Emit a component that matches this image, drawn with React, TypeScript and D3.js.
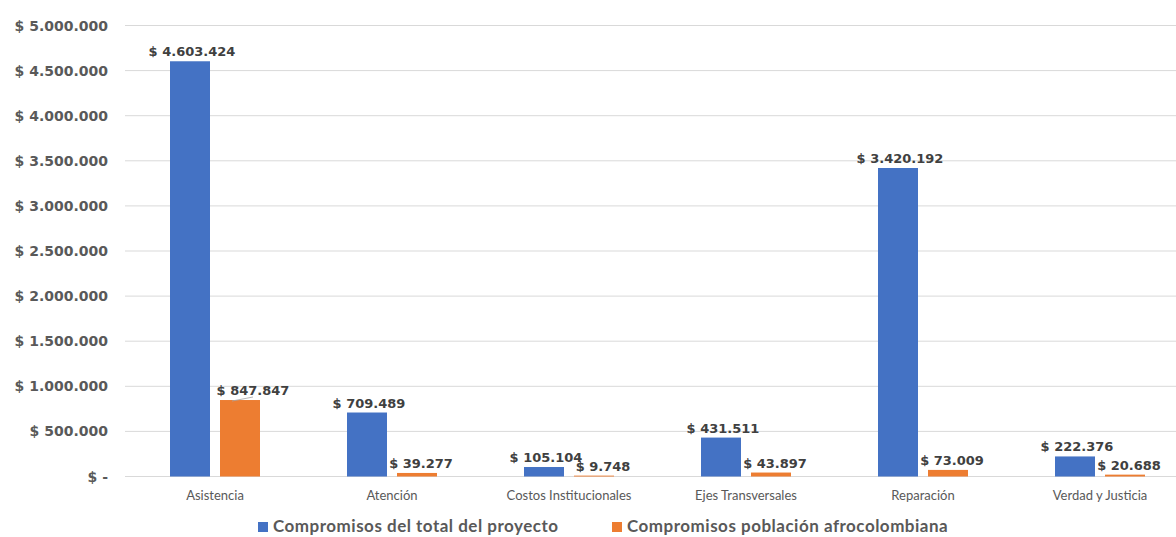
import React from "react";
import * as d3 from "d3";

const categories = [
  "Asistencia",
  "Atención",
  "Costos Institucionales",
  "Ejes Transversales",
  "Reparación",
  "Verdad y Justicia",
];
const totalProyecto = [4603424, 709489, 105104, 431511, 3420192, 222376];
const poblacionAfro = [847847, 39277, 9748, 43897, 73009, 20688];
const seriesNames = [
  "Compromisos del total del proyecto",
  "Compromisos población afrocolombiana",
];
const yTicks = [0, 500000, 1000000, 1500000, 2000000, 2500000, 3000000, 3500000, 4000000, 4500000, 5000000];

const COLORS = ["#4472C4", "#ED7D31"];
const W = 1176;
const H = 537;
const margin = { left: 126.5, right: -12.5, top: 25.5, bottom: 60.5 };

const fmtNum = (v: number) => "$ " + d3.format(",")(v).replace(/,/g, ".");
const fmtTick = (v: number) => (v === 0 ? "$ -" : fmtNum(v));

export default function App() {
  const x = d3
    .scaleBand<string>()
    .domain(categories)
    .range([margin.left, W - margin.right])
    .paddingInner(0)
    .paddingOuter(0);
  const y = d3
    .scaleLinear()
    .domain([0, 5000000])
    .range([H - margin.bottom, margin.top]);

  const barW = 40;
  const gap = 10;
  const series = [totalProyecto, poblacionAfro];
  const valueFont = "'DejaVu Sans', sans-serif";

  return (
    <svg
      width={W}
      height={H}
      style={{ position: "absolute", left: 0, top: 0, background: "#fff" }}
    >
      {/* gridlines + y axis labels */}
      {yTicks.map((t) => (
        <g key={t}>
          <line
            x1={125}
            x2={W}
            y1={y(t)}
            y2={y(t)}
            stroke="#d9d9d9"
            strokeWidth={1}
          />
          <text
            x={108}
            y={y(t) + 5}
            textAnchor="end"
            fontFamily={valueFont}
            fontWeight="bold"
            fontSize={14}
            fill="#595959"
          >
            {fmtTick(t)}
          </text>
        </g>
      ))}

      {/* bars */}
      {categories.map((c, i) => {
        const cx = (x(c) as number) + x.bandwidth() / 2;
        return (
          <g key={c}>
            {series.map((s, si) => {
              const bx = si === 0 ? cx - gap / 2 - barW : cx + gap / 2;
              const top = y(s[i]);
              return (
                <rect
                  key={si}
                  x={bx}
                  y={top}
                  width={barW}
                  height={y(0) - top}
                  fill={COLORS[si]}
                />
              );
            })}
          </g>
        );
      })}

      {/* value labels */}
      {categories.map((c, i) => {
        const cx = (x(c) as number) + x.bandwidth() / 2;
        return (
          <g key={"lbl" + c}>
            {series.map((s, si) => {
              const bcx = si === 0 ? cx - gap / 2 - barW / 2 : cx + gap / 2 + barW / 2;
              const top = y(s[i]);
              const nudged = si === 1 && s[i] > 500000;
              // keep the orange label clear of a tall neighbour label
              const crowded = si === 1 && s[i] < 15000;
              const dx = si === 0 ? 2 : nudged ? 13 : crowded ? 9 : 4;
              return (
                <g key={si}>
                  {nudged && (
                    <line
                      x1={bcx - 8}
                      y1={top + 1}
                      x2={bcx + 13}
                      y2={top - 3}
                      stroke="#a6a6a6"
                      strokeWidth={0.8}
                    />
                  )}
                  <text
                    x={bcx + dx}
                    y={top - 5}
                    textAnchor="middle"
                    fontFamily={valueFont}
                    fontWeight="bold"
                    fontSize={13}
                    fill="#404040"
                  >
                    {fmtNum(s[i])}
                  </text>
                </g>
              );
            })}
          </g>
        );
      })}

      {/* category labels */}
      {categories.map((c) => (
        <text
          key={"cat" + c}
          x={(x(c) as number) + x.bandwidth() / 2}
          y={500}
          textAnchor="middle"
          fontFamily="Lato, sans-serif"
          fontSize={13}
          fill="#595959"
        >
          {c}
        </text>
      ))}

      {/* legend */}
      {seriesNames.map((n, i) => {
        const lx = i === 0 ? 258 : 612;
        return (
          <g key={n}>
            <rect x={lx} y={522} width={10} height={10} fill={COLORS[i]} />
            <text
              x={lx + 15}
              y={532}
              fontFamily="Lato, sans-serif"
              fontWeight="bold"
              fontSize={17}
              letterSpacing={0.5}
              fill="#595959"
            >
              {n}
            </text>
          </g>
        );
      })}
    </svg>
  );
}
